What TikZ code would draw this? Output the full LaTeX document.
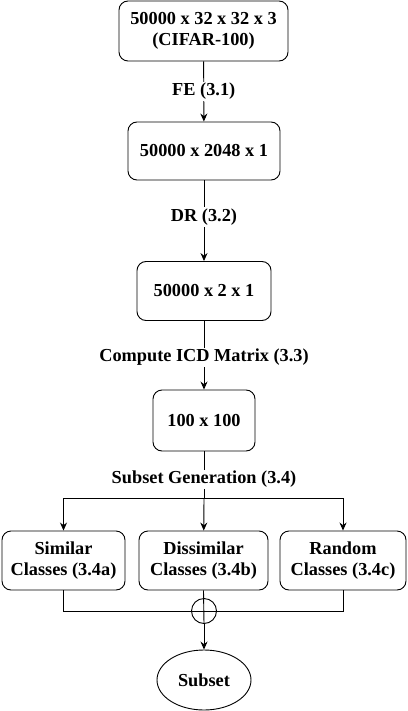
\documentclass[tikz,border=0pt]{standalone}
\usepackage{fontspec}
\setmainfont{Liberation Serif}
\usetikzlibrary{arrows.meta,shapes.geometric}
\begin{document}
\begin{tikzpicture}[x=1pt,y=-1pt,
  every node/.style={font=\fontsize{18.3}{21.5}\selectfont\bfseries},
  stagebox/.style={draw,rounded corners=9pt,align=center,line width=0.9pt,inner sep=0pt},
  lbl/.style={fill=white,inner sep=1.5pt},
  conn/.style={line width=0.9pt},
  arr/.style={conn,-{Stealth[length=8pt,width=7pt]}}]
\useasboundingbox (0,0) rectangle (407,711);
\node[stagebox,minimum width=169pt,minimum height=60pt] (b1) at (203.5,31) {50000 x 32 x 32 x 3\\(CIFAR-100)};
\node[stagebox,minimum width=152pt,minimum height=58pt] (b2) at (204,151) {50000 x 2048 x 1};
\node[stagebox,minimum width=134pt,minimum height=59pt] (b3) at (204,291) {50000 x 2 x 1};
\node[stagebox,minimum width=102pt,minimum height=61pt] (b4) at (204,420.5) {100 x 100};
\node[stagebox,minimum width=123pt,minimum height=59pt] (ca) at (63.5,560.5) {Similar\\Classes (3.4a)};
\node[stagebox,minimum width=129pt,minimum height=59pt] (cb) at (203.5,560.5) {Dissimilar\\Classes (3.4b)};
\node[stagebox,minimum width=126pt,minimum height=59pt] (cc) at (343,560.5) {Random\\Classes (3.4c)};
\node[draw,circle,minimum size=25pt,inner sep=0pt,line width=0.9pt] (plus) at (204,611) {};
\node[draw,ellipse,minimum width=94pt,minimum height=60pt,inner sep=0pt,line width=0.9pt] (sub) at (204,680) {Subset};
\coordinate (jn) at (204,498);
\coordinate (jl) at (63.5,498);
\coordinate (jr) at (343,498);
\coordinate (ml) at (63.5,611);
\coordinate (mr) at (343,611);
\draw[arr] (b1) -- node[lbl] {FE (3.1)} (b2);
\draw[arr] (b2) -- node[lbl,pos=0.45] {DR (3.2)} (b3);
\draw[arr] (b3) -- node[lbl,pos=0.53] {Compute ICD Matrix (3.3)} (b4);
\draw[conn] (b4) -- node[lbl,pos=0.6] {Subset Generation (3.4)} (jn);
\draw[conn] (jl) -- (jr);
\draw[arr] (jl) -- (ca);
\draw[arr] (jn) -- (cb);
\draw[arr] (jr) -- (cc);
\draw[conn] (ca.south) -- (ml) -- (mr) -- (cc.south);
\draw[conn] (cb.south) -- (plus.south);
\draw[arr] (plus.south) -- (sub);
\end{tikzpicture}
\end{document}
